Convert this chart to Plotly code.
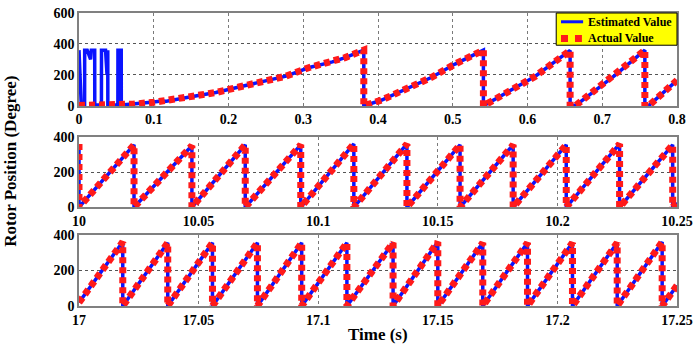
import plotly.graph_objects as go

# ---------------- data ----------------
# Panel 1 : 0 - 0.8 s
p1_act_t = [0, 0.03, 0.06, 0.072, 0.1, 0.117, 0.15, 0.183, 0.214, 0.245, 0.277, 0.308, 0.339, 0.356, 0.381,
            0.381, 0.405, 0.472, 0.503, 0.541,
            0.541, 0.61, 0.657,
            0.657, 0.665, 0.7165, 0.757,
            0.757, 0.763, 0.8]
p1_act_y = [3, 4, 6, 11, 23, 34, 59, 86, 122, 154, 192, 248, 284, 312, 360,
            0, 38, 185, 270, 360,
            0, 190, 358,
            0, 5, 196, 360,
            0, 5, 165]
p1_est_t = [0, 0.002, 0.003, 0.0075, 0.0076, 0.011, 0.0155, 0.0165, 0.021, 0.0211, 0.030, 0.0301, 0.0355,
            0.0375, 0.0376, 0.0385, 0.0386, 0.052, 0.0521, 0.0535, 0.0536, 0.0545, 0.0546, 0.0565, 0.0566,
            0.072, 0.1, 0.11, 0.117, 0.15, 0.183, 0.214, 0.245, 0.277, 0.308, 0.339, 0.356, 0.381,
            0.381, 0.405, 0.472, 0.503, 0.541,
            0.541, 0.61, 0.657,
            0.657, 0.665, 0.7165, 0.757,
            0.757, 0.763, 0.8]
p1_est_y = [360, 30, 5, 5, 360, 360, 300, 360, 360, 5, 5, 360, 360,
            200, 360, 360, 5, 5, 360, 360, 5, 5, 360, 360, 5,
            11, 25, 32, 30, 59, 86, 122, 154, 192, 248, 284, 312, 360,
            0, 38, 185, 270, 360,
            0, 190, 358,
            0, 5, 196, 360,
            0, 5, 165]

# Panel 2 : 10 - 10.25 s
p2_t = [10.0, 10.0, 10.023, 10.023, 10.0472, 10.0472, 10.0695, 10.0695, 10.0927, 10.0927,
        10.1149, 10.1149, 10.1371, 10.1371, 10.1593, 10.1593, 10.1815, 10.1815, 10.2037, 10.2037,
        10.226, 10.226, 10.2482, 10.2482, 10.25]
p2_y = [360, 0, 355, 0, 350, 0, 355, 0, 355, 0,
        360, 0, 360, 0, 355, 0, 355, 0, 355, 0,
        360, 0, 355, 0, 25]

# Panel 3 : 17 - 17.25 s
p3_t = [17.0, 17.0183, 17.0183, 17.0371, 17.0371, 17.0558, 17.0558, 17.0746, 17.0746, 17.0931, 17.0931,
        17.112, 17.112, 17.1313, 17.1313, 17.15, 17.15, 17.1688, 17.1688, 17.1875, 17.1875,
        17.2063, 17.2063, 17.225, 17.225, 17.2438, 17.2438, 17.25]
p3_y = [20, 360, 0, 355, 0, 355, 0, 355, 0, 355, 0,
        355, 0, 355, 0, 360, 0, 355, 0, 355, 0,
        355, 0, 355, 0, 360, 0, 115]

p1_xticks = [0, 0.1, 0.2, 0.3, 0.4, 0.5, 0.6, 0.7, 0.8]
p1_xlabels = ["0", "0.1", "0.2", "0.3", "0.4", "0.5", "0.6", "0.7", "0.8"]
p2_xticks = [10, 10.05, 10.1, 10.15, 10.2, 10.25]
p2_xlabels = ["10", "10.05", "10.1", "10.15", "10.2", "10.25"]
p3_xticks = [17, 17.05, 17.1, 17.15, 17.2, 17.25]
p3_xlabels = ["17", "17.05", "17.1", "17.15", "17.2", "17.25"]
p1_yticks = [0, 200, 400, 600]
p23_yticks = [0, 200, 400]

legend_labels = ["Estimated Value", "Actual Value"]

# ---------------- styling ----------------
SERIF = "Liberation Serif"
BLUE = "#0a14ff"
RED = "#ff1a1a"
est_line = dict(color=BLUE, width=3.5)
act_line = dict(color=RED, width=7, dash="6px,4px")

fig = go.Figure()

panels = [
    (p1_est_t, p1_est_y, p1_act_t, p1_act_y, "x", "y"),
    (p2_t, p2_y, p2_t, p2_y, "x2", "y2"),
    (p3_t, p3_y, p3_t, p3_y, "x3", "y3"),
]
for et, ey, at, ay, xa, ya in panels:
    fig.add_trace(go.Scatter(x=et, y=ey, mode="lines", line=est_line, name=legend_labels[0],
                             xaxis=xa, yaxis=ya, showlegend=False))
    fig.add_trace(go.Scatter(x=at, y=ay, mode="lines", line=act_line, name=legend_labels[1],
                             xaxis=xa, yaxis=ya, showlegend=False))

tickfont = dict(family=SERIF, size=14, color="black", weight="bold")
common_x = dict(showline=True, linecolor="#808080", linewidth=1.5, mirror=True,
                showgrid=True, gridcolor="#7a7a7a", griddash="dot", gridwidth=1,
                zeroline=False, ticks="", tickfont=tickfont, tickmode="array")
common_y = dict(showline=True, linecolor="#808080", linewidth=1.5, mirror=True,
                showgrid=True, gridcolor="#555555", griddash="dot", gridwidth=1,
                zeroline=False, ticks="", tickfont=tickfont, tickmode="array")

# compact legend box (yellow, black border) drawn in paper coordinates
leg_x0, leg_x1, leg_y0, leg_y1 = 0.798, 1.0, 0.89, 1.0
row_y = [0.97, 0.913]
legend_shapes = [
    dict(type="rect", xref="paper", yref="paper", x0=leg_x0, x1=leg_x1, y0=leg_y0, y1=leg_y1,
         fillcolor="#ffff00", line=dict(color="black", width=1), layer="above"),
    dict(type="line", xref="paper", yref="paper", x0=0.806, x1=0.843, y0=row_y[0], y1=row_y[0],
         line=dict(color=BLUE, width=3), layer="above"),
    dict(type="line", xref="paper", yref="paper", x0=0.806, x1=0.841, y0=row_y[1], y1=row_y[1],
         line=dict(color=RED, width=7, dash="7px,7px"), layer="above"),
]
legend_texts = [
    dict(text=lbl, xref="paper", yref="paper", x=0.847, y=ry, xanchor="left", yanchor="middle",
         showarrow=False, font=dict(family=SERIF, size=12, color="black", weight="bold"))
    for lbl, ry in zip(legend_labels, row_y)
]

fig.update_layout(
    width=699, height=346,
    margin=dict(l=79, r=20, t=6, b=40),
    paper_bgcolor="white", plot_bgcolor="white",
    showlegend=False,
    xaxis=dict(common_x, domain=[0, 1], range=[0, 0.8], anchor="y",
               tickvals=p1_xticks, ticktext=p1_xlabels),
    yaxis=dict(common_y, domain=[0.683, 1], range=[0, 600], anchor="x",
               tickvals=p1_yticks, ticktext=[str(v) for v in p1_yticks]),
    xaxis2=dict(common_x, domain=[0, 1], range=[10, 10.25], anchor="y2",
                tickvals=p2_xticks, ticktext=p2_xlabels),
    yaxis2=dict(common_y, domain=[0.337, 0.577], range=[0, 400], anchor="x2",
                tickvals=p23_yticks, ticktext=[str(v) for v in p23_yticks]),
    xaxis3=dict(common_x, domain=[0, 1], range=[17, 17.25], anchor="y3",
                tickvals=p3_xticks, ticktext=p3_xlabels),
    yaxis3=dict(common_y, domain=[0, 0.243], range=[0, 400], anchor="x3",
                tickvals=p23_yticks, ticktext=[str(v) for v in p23_yticks]),
    shapes=legend_shapes,
    annotations=[
        dict(text="Rotor Position (Degree)", textangle=-90, xref="paper", yref="paper",
             x=-0.115, y=0.493, xanchor="center", yanchor="middle", showarrow=False,
             font=dict(family=SERIF, size=17, color="black", weight="bold")),
        dict(text="Time (s)", xref="paper", yref="paper",
             x=0.5, y=-0.097, xanchor="center", yanchor="middle", showarrow=False,
             font=dict(family=SERIF, size=17, color="black", weight="bold")),
    ] + legend_texts,
)

fig.write_html("out.html", config={"displayModeBar": False},
               post_script="document.body.style.margin='0';document.body.style.padding='0';")
